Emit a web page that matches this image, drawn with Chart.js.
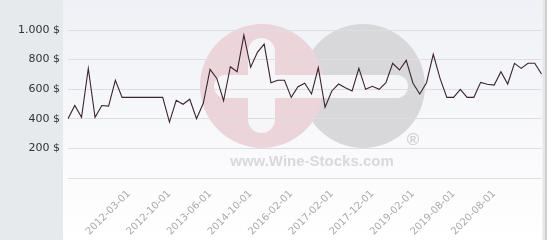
<!DOCTYPE html>
<html>
<head>
<meta charset="utf-8">
<script src="https://cdn.jsdelivr.net/npm/chart.js@4/dist/chart.umd.min.js"></script>
<style>
  html, body { margin: 0; padding: 0; background: #fff; }
</style>
</head>
<body>
<canvas id="priceChart" width="560" height="240"></canvas>
<script>
var dates = [
  '2011-06-01', '2011-07-01', '2011-08-01', '2011-09-01', '2011-10-01', '2011-11-01',
  '2011-12-01', '2012-01-01', '2012-02-01', '2012-03-01', '2012-04-01', '2012-05-01',
  '2012-06-01', '2012-07-01', '2012-08-01', '2012-10-01', '2012-12-01', '2013-01-01',
  '2013-03-01', '2013-04-01', '2013-05-01', '2013-06-01', '2013-09-01', '2013-11-01',
  '2014-01-01', '2014-04-01', '2014-07-01', '2014-10-01', '2015-01-01', '2015-04-01',
  '2015-07-01', '2015-09-01', '2015-11-01', '2016-02-01', '2016-04-01', '2016-06-01',
  '2016-08-01', '2016-10-01', '2016-12-01', '2017-02-01', '2017-03-01', '2017-05-01',
  '2017-07-01', '2017-09-01', '2017-10-01', '2017-12-01', '2018-02-01', '2018-05-01',
  '2018-07-01', '2018-09-01', '2018-11-01', '2019-02-01', '2019-03-01', '2019-04-01',
  '2019-05-01', '2019-06-01', '2019-07-01', '2019-08-01', '2019-10-01', '2019-12-01',
  '2020-02-01', '2020-04-01', '2020-06-01', '2020-08-01', '2020-09-01', '2020-10-01',
  '2020-11-01', '2020-12-01', '2021-01-01', '2021-02-01', '2021-03-01'
];

var prices = [
  400, 490, 410, 740, 410, 490, 486, 660, 545, 545, 545, 545, 545, 545, 545,
  378, 525, 498, 532, 400, 505, 734, 673, 522, 752, 718, 966, 748, 849, 905,
  644, 660, 660, 545, 617, 640, 568, 745, 478, 588, 635, 610, 588, 741, 599,
  620, 599, 644, 775, 730, 795, 640, 568, 644, 836, 673, 545, 545, 599, 545,
  545, 646, 633, 628, 718, 635, 775, 741, 775, 775, 703
];

// only these dates get a label under the axis
var shownDates = [
  '2012-03-01', '2012-10-01', '2013-06-01', '2014-10-01', '2016-02-01',
  '2017-02-01', '2017-12-01', '2019-02-01', '2019-08-01', '2020-08-01'
];

var yMin = 0;
var yMax = 1000;
var yStep = 200;

function format_price(value) {
  if (value === 0) return '';
  var s = String(value);
  if (value >= 1000) {
    s = s.slice(0, s.length - 3) + '.' + s.slice(s.length - 3);
  }
  return s + ' $';
}

function draw_watermark(ctx) {
  // grey disc
  ctx.fillStyle = '#d8d8da';
  ctx.beginPath();
  ctx.arc(363, 86, 62, 0, Math.PI * 2);
  ctx.fill();
  // pink disc
  ctx.fillStyle = '#ebd4da';
  ctx.beginPath();
  ctx.arc(262, 86, 62, 0, Math.PI * 2);
  ctx.fill();
  // white bars (plus / minus)
  ctx.fillStyle = '#f6f6f9';
  ctx.beginPath();
  ctx.roundRect(214, 75, 194, 23, 11.5);
  ctx.fill();
  ctx.beginPath();
  ctx.roundRect(248, 38, 27, 95, 13.5);
  ctx.fill();
  // text
  ctx.fillStyle = '#d9d9db';
  ctx.font = 'bold 15px "Liberation Sans"';
  ctx.textAlign = 'center';
  ctx.textBaseline = 'alphabetic';
  ctx.fillText('www.Wine-Stocks.com', 312, 166);
  ctx.font = 'bold 17px "Liberation Sans"';
  ctx.fillStyle = '#d0d0d2';
  ctx.textBaseline = 'middle';
  ctx.fillText('\u00AE', 413, 140);
}

var panelPlugin = {
  id: 'panel',
  beforeDraw: function(chart) {
    var ctx = chart.ctx;
    var area = chart.chartArea;
    ctx.save();
    // left grey strip behind the y labels
    ctx.fillStyle = '#e7eaed';
    ctx.fillRect(0, 0, area.left - 5, chart.height);
    // plot panel, light blue-grey fading to white
    var grad = ctx.createLinearGradient(0, 0, 0, chart.height);
    grad.addColorStop(0, '#f0f1f6');
    grad.addColorStop(1, '#ffffff');
    ctx.fillStyle = grad;
    ctx.fillRect(area.left - 5, 0, area.right - area.left + 6, chart.height);
    // right border
    ctx.fillStyle = '#e6e6e8';
    ctx.fillRect(area.right + 1, 0, 3, chart.height);
    ctx.fillStyle = '#a9a9a9';
    ctx.fillRect(area.right + 4, 0, 1, chart.height);
    draw_watermark(ctx);
    ctx.restore();
  }
};

Chart.defaults.font.family = '"DejaVu Sans"';

var priceChart = new Chart(document.getElementById('priceChart'), {
  type: 'line',
  data: {
    labels: dates,
    datasets: [{
      data: prices,
      borderColor: '#3a2430',
      borderWidth: 1.1,
      pointRadius: 0,
      tension: 0,
      fill: false
    }]
  },
  options: {
    responsive: false,
    animation: false,
    layout: { padding: { top: 30, right: 5, left: 0, bottom: 0 } },
    plugins: {
      legend: { display: false },
      tooltip: { enabled: false }
    },
    scales: {
      x: {
        grid: { display: false, drawTicks: false },
        border: { display: false },
        ticks: {
          autoSkip: false,
          minRotation: 45,
          maxRotation: 45,
          color: '#aaaaaa',
          font: { size: 10 },
          padding: 10,
          callback: function(value) {
            var label = this.getLabelForValue(value);
            return shownDates.indexOf(label) >= 0 ? label : '';
          }
        },
        afterFit: function(scale) { scale.height = 62; }
      },
      y: {
        min: yMin,
        max: yMax,
        grid: { color: '#dedede', drawTicks: false },
        border: { display: false },
        ticks: {
          stepSize: yStep,
          color: '#333333',
          font: { size: 11 },
          padding: 8,
          callback: function(value) { return format_price(value); }
        },
        afterFit: function(scale) { scale.width = 68; }
      }
    }
  },
  plugins: [panelPlugin]
});
</script>
</body>
</html>
